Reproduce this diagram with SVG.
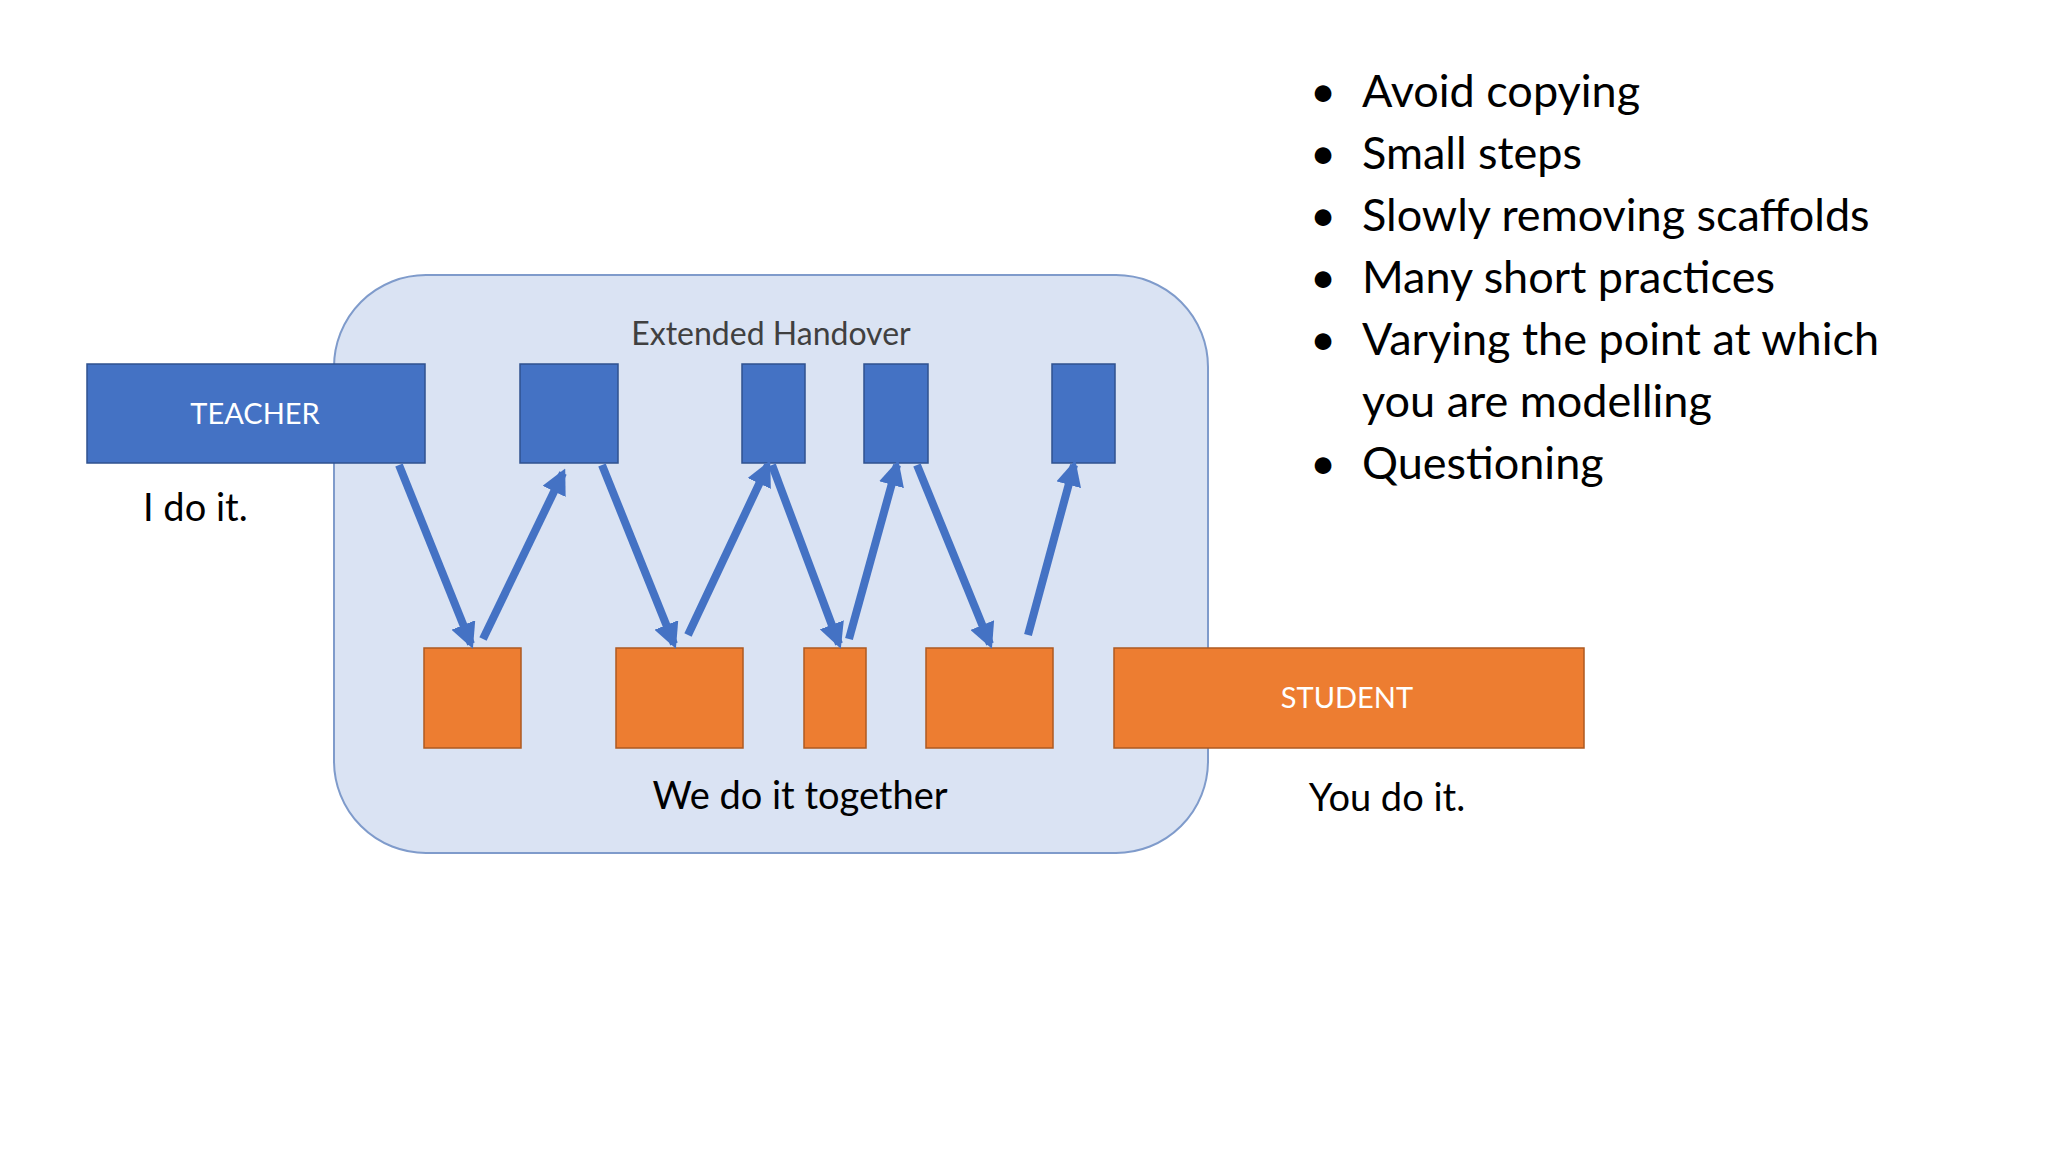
<svg xmlns="http://www.w3.org/2000/svg" width="2048" height="1152" viewBox="0 0 2048 1152">
<style>
.b{fill:#4472C4;stroke:#2F528F;stroke-width:1.5}
.o{fill:#ED7D31;stroke:#AE5A21;stroke-width:1.5}
.t{font-family:Lato,"Open Sans",sans-serif}
.a{stroke:#4472C4;stroke-width:8;fill:none;marker-end:url(#ah)}
</style>
<defs><marker id="ah" viewBox="0 0 10 10" refX="8" refY="5" markerWidth="3.2" markerHeight="3.2" orient="auto"><path d="M0,0L10,5L0,10z" fill="#4472C4"/></marker></defs>
<rect width="2048" height="1152" fill="#fff"/>
<g id="handover"><rect x="334" y="275" width="874" height="578" rx="92" fill="#DAE3F3" stroke="#7F9BCB" stroke-width="2"/>
<text class="t" x="771" y="345" font-size="32" fill="#404040" text-anchor="middle">Extended Handover</text>
<text class="t" x="800" y="809" font-size="38" fill="#000" text-anchor="middle">We do it together</text></g>
<g id="teacher"><rect class="b" x="87" y="364" width="338" height="99"/>
<text class="t" x="255" y="424" font-size="29" fill="#fff" text-anchor="middle">TEACHER</text>
<text class="t" x="143" y="521" font-size="38" fill="#000">I do it.</text></g>
<g id="blue"><rect class="b" x="520" y="364" width="98" height="99"/><rect class="b" x="742" y="364" width="63" height="99"/><rect class="b" x="864" y="364" width="64" height="99"/><rect class="b" x="1052" y="364" width="63" height="99"/></g>
<g id="orange"><rect class="o" x="424" y="648" width="97" height="100"/><rect class="o" x="616" y="648" width="127" height="100"/><rect class="o" x="804" y="648" width="62" height="100"/><rect class="o" x="926" y="648" width="127" height="100"/></g>
<g id="student"><rect class="o" x="1114" y="648" width="470" height="100"/>
<text class="t" x="1347" y="708" font-size="29" fill="#fff" text-anchor="middle">STUDENT</text>
<text class="t" x="1387" y="811" font-size="38" fill="#000" text-anchor="middle">You do it.</text></g>
<g id="connectors">
<line class="a" x1="399" y1="465" x2="471" y2="644"/>
<line class="a" x1="483" y1="639" x2="563" y2="473"/>
<line class="a" x1="602" y1="465" x2="674" y2="644"/>
<line class="a" x1="688" y1="635" x2="768" y2="465"/>
<line class="a" x1="772" y1="465" x2="839" y2="644"/>
<line class="a" x1="849" y1="639" x2="897" y2="465"/>
<line class="a" x1="917" y1="465" x2="990" y2="644"/>
<line class="a" x1="1028" y1="635" x2="1074" y2="465"/>
</g>
<g id="bullets" class="t" font-size="45" fill="#000">
<text x="1310" y="107">•</text><text x="1362" y="107">Avoid copying</text>
<text x="1310" y="169">•</text><text x="1362" y="169">Small steps</text>
<text x="1310" y="231">•</text><text x="1362" y="231">Slowly removing scaffolds</text>
<text x="1310" y="293">•</text><text x="1362" y="293">Many short practices</text>
<text x="1310" y="355">•</text><text x="1362" y="355">Varying the point at which</text>
<text x="1362" y="417">you are modelling</text>
<text x="1310" y="479">•</text><text x="1362" y="479">Questioning</text>
</g>
</svg>
